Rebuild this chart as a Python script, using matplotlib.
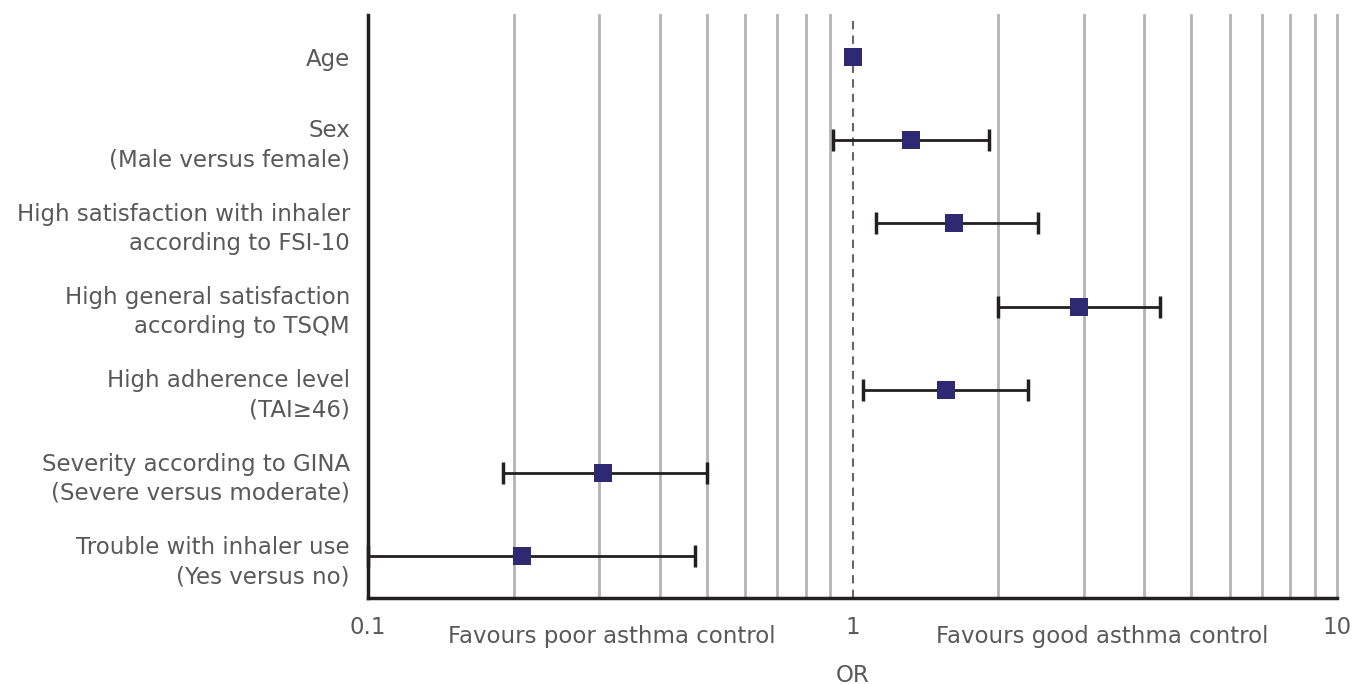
import matplotlib.pyplot as plt
import matplotlib.transforms as mtransforms

labels = [
    "Age",
    "Sex\n(Male versus female)",
    "High satisfaction with inhaler\naccording to FSI-10",
    "High general satisfaction\naccording to TSQM",
    "High adherence level\n(TAI\u226546)",
    "Severity according to GINA\n(Severe versus moderate)",
    "Trouble with inhaler use\n(Yes versus no)",
]
odds_ratio = [1.0, 1.32, 1.62, 2.93, 1.56, 0.306, 0.208]
ci_low = [1.0, 0.91, 1.12, 2.0, 1.05, 0.19, 0.1]
ci_high = [1.0, 1.91, 2.41, 4.32, 2.30, 0.50, 0.474]

grid_ticks = [0.2, 0.3, 0.4, 0.5, 0.6, 0.7, 0.8, 0.9, 2, 3, 4, 5, 6, 7, 8, 9, 10]
major_ticks = [0.1, 1, 10]

text_color = "#595959"
font_size = 16.5
plt.rcParams['font.family'] = ['DejaVu Sans']

fig = plt.figure(figsize=(13.55, 6.84), dpi=100)
ax = fig.add_axes([368 / 1355, 1 - 598 / 684, (1337 - 368) / 1355, (598 - 15) / 684])
ax.set_xscale('log')
ax.set_xlim(0.1, 10)
ax.set_ylim(6.5, -0.5)

# vertical grid lines
for t in grid_ticks:
    ax.axvline(t, color="#b3b3b3", linewidth=2, zorder=1, clip_on=False)
ax.axvline(1, color="#666666", linewidth=1.5, linestyle=(0, (4, 3)), zorder=2)

rows = list(range(len(labels)))
for i in rows:
    if ci_high[i] > ci_low[i]:
        ax.errorbar(odds_ratio[i], i,
                    xerr=[[odds_ratio[i] - ci_low[i]], [ci_high[i] - odds_ratio[i]]],
                    fmt='none', ecolor="#231f20", elinewidth=2, capsize=8,
                    capthick=2.5, zorder=3, clip_on=False)
ax.scatter(odds_ratio, rows, marker='s', s=185, color="#2e2a72", zorder=4,
           clip_on=False, linewidths=0)

ax.set_yticks(rows)
ax.set_yticklabels(labels, fontsize=font_size, color=text_color, linespacing=1.35)
ax.set_xticks(major_ticks)
ax.set_xticklabels(["0.1", "1", "10"], fontsize=font_size, color=text_color)
ax.xaxis.set_minor_locator(plt.NullLocator())
ax.tick_params(axis='both', length=0)
ax.tick_params(axis='x', pad=13)
ax.tick_params(axis='y', pad=13)

for side in ['top', 'right']:
    ax.spines[side].set_visible(False)
for side in ['left', 'bottom']:
    ax.spines[side].set_linewidth(2.5)
    ax.spines[side].set_color("#231f20")

trans = mtransforms.blended_transform_factory(ax.transData, fig.transFigure)
ax.text(0.318, 1 - 637 / 684, "Favours poor asthma control", transform=trans,
        ha='center', va='center', fontsize=font_size, color=text_color)
ax.text(3.27, 1 - 637 / 684, "Favours good asthma control", transform=trans,
        ha='center', va='center', fontsize=font_size, color=text_color)
ax.text(1, 1 - 675 / 684, "OR", transform=trans,
        ha='center', va='center', fontsize=font_size, color=text_color)

fig.savefig("out.png", dpi=100)
